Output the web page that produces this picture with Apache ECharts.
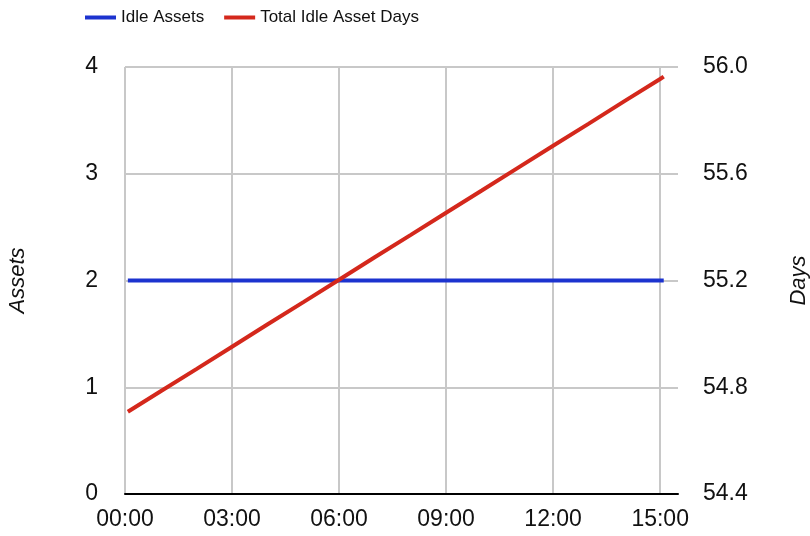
<!DOCTYPE html>
<html>
<head>
<meta charset="utf-8">
<script src="https://cdn.jsdelivr.net/npm/echarts@6/dist/echarts.min.js"></script>
<style>
  html, body { margin: 0; padding: 0; background: #fff; }
  #chart { width: 810px; height: 536px; }
</style>
</head>
<body>
<div id="chart"></div>
<script>
// Horas do dia (0 = 00:00)
const hours = [0.08, 1, 2, 3, 4, 5, 6, 7, 8, 9, 10, 11, 12, 13, 14, 15, 15.1];
// Ativos ociosos
const idleAssets = [2, 2, 2, 2, 2, 2, 2, 2, 2, 2, 2, 2, 2, 2, 2, 2, 2];
// Total de dias ociosos acumulados
const idleDays = [54.708, 54.785, 54.868, 54.952, 55.036, 55.119, 55.203, 55.287, 55.370, 55.454, 55.537, 55.621, 55.705, 55.788, 55.872, 55.955, 55.964];

const seriesNames = ['Idle Assets', 'Total Idle Asset Days'];
const COLORS = { blue: '#1c33cf', red: '#d4281c', grid: '#c8c8c8', text: '#111' };

const chart = echarts.init(document.getElementById('chart'));

const pad = n => String(n).padStart(2, '0');

const option = {
    animation: false,
    backgroundColor: '#fff',
    textStyle: { fontFamily: 'Liberation Sans, Arial, sans-serif' },
    legend: {
        top: 4,
        left: 80,
        itemWidth: 31,
        itemHeight: 4,
        itemGap: 20,
        icon: 'rect',
        textStyle: { fontSize: 17, color: COLORS.text },
        data: seriesNames
    },
    grid: { left: 125, right: 132, top: 67, bottom: 42, outerBoundsMode: 'none' },
    xAxis: {
        type: 'value',
        min: 0,
        max: 15.5,
        interval: 3,
        axisLine: { show: true, onZero: false, lineStyle: { color: '#000', width: 2 } },
        axisTick: { show: false },
        splitLine: { show: true, showMaxLine: false, lineStyle: { color: COLORS.grid, width: 2 } },
        axisLabel: {
            color: COLORS.text,
            fontSize: 23,
            margin: 14,
            showMaxLabel: false,
            formatter: v => pad(v) + ':00'
        }
    },
    yAxis: [{
        type: 'value',
        min: 0,
        max: 4,
        interval: 1,
        name: 'Assets',
        nameLocation: 'middle',
        nameGap: 96,
        nameRotate: 90,
        nameTextStyle: { fontSize: 22, fontStyle: 'italic', color: COLORS.text },
        axisLine: { show: false },
        axisTick: { show: false },
        splitLine: { show: true, lineStyle: { color: COLORS.grid, width: 2 } },
        axisLabel: { color: COLORS.text, fontSize: 23, margin: 27 }
    }, {
        type: 'value',
        min: 54.4,
        max: 56.0,
        interval: 0.4,
        name: 'Days',
        nameLocation: 'middle',
        nameGap: 110,
        nameRotate: 90,
        nameTextStyle: { fontSize: 22, fontStyle: 'italic', color: COLORS.text },
        axisLine: { show: false },
        axisTick: { show: false },
        splitLine: { show: false },
        axisLabel: { color: COLORS.text, fontSize: 23, margin: 25, formatter: v => v.toFixed(1) }
    }],
    series: [{
        name: seriesNames[0],
        type: 'line',
        yAxisIndex: 0,
        data: hours.map((h, i) => [h, idleAssets[i]]),
        showSymbol: false,
        lineStyle: { color: COLORS.blue, width: 4 },
        itemStyle: { color: COLORS.blue }
    }, {
        name: seriesNames[1],
        type: 'line',
        yAxisIndex: 1,
        data: hours.map((h, i) => [h, idleDays[i]]),
        showSymbol: false,
        lineStyle: { color: COLORS.red, width: 4 },
        itemStyle: { color: COLORS.red }
    }]
};

chart.setOption(option);
</script>
</body>
</html>
